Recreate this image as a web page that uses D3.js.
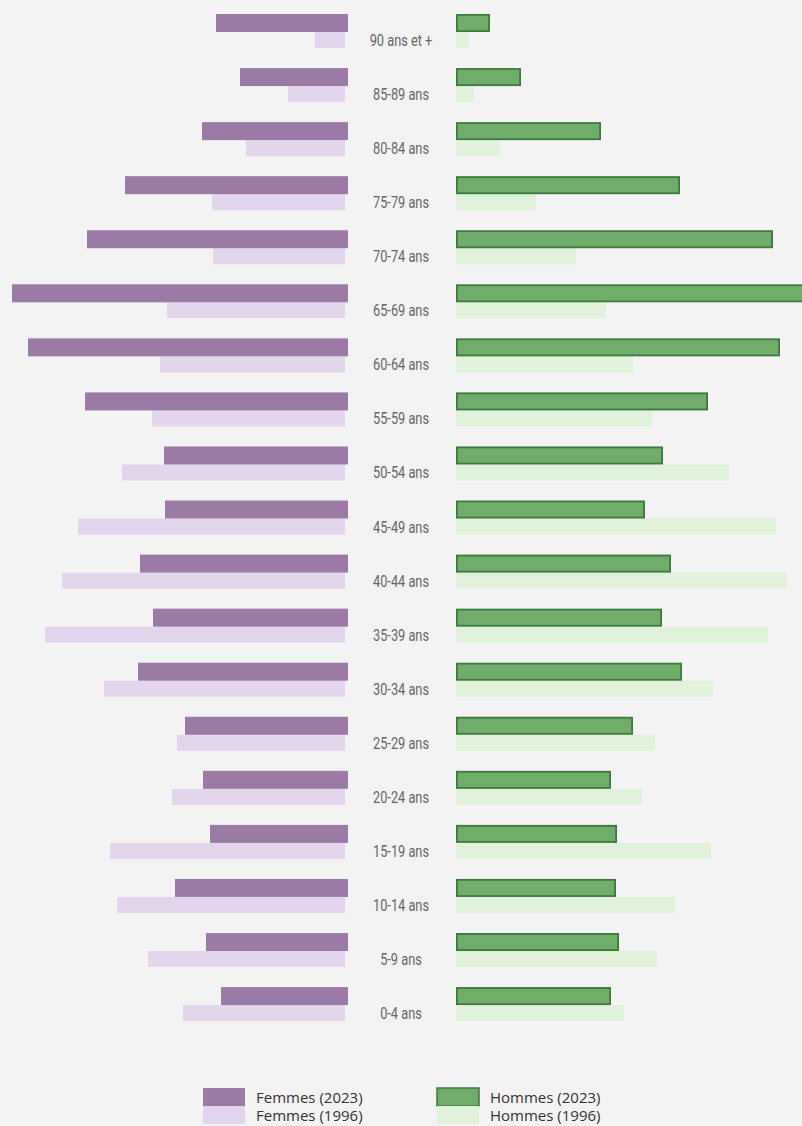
<!DOCTYPE html>
<html lang="fr">
<head>
<meta charset="utf-8">
<style>
  body { margin: 0; background: #f3f3f3; }
  #chart { width: 802px; height: 1126px; overflow: hidden; }
  .age { font-family: Roboto, "Liberation Sans", sans-serif; font-size: 16px; fill: #666; }
  .leg { font-family: "Open Sans", sans-serif; font-size: 15px; fill: #333; }
</style>
</head>
<body>
<div id="chart"><svg width="802" height="1126"></svg></div>
<script src="https://d3js.org/d3.v7.min.js"></script>
<script>
// age groups, top to bottom
var ages = ["90 ans et +", "85-89 ans", "80-84 ans", "75-79 ans", "70-74 ans", "65-69 ans",
  "60-64 ans", "55-59 ans", "50-54 ans", "45-49 ans", "40-44 ans", "35-39 ans",
  "30-34 ans", "25-29 ans", "20-24 ans", "15-19 ans", "10-14 ans", "5-9 ans", "0-4 ans"];

// values (same unit on both sides)
var femmes2023 = [132, 108, 146, 223, 261, 336, 320, 263, 184, 183, 208, 195, 210, 163, 145, 138, 173, 142, 127];
var femmes1996 = [30, 57, 99, 133, 132, 178, 185, 193, 223, 267, 283, 300, 241, 168, 173, 235, 228, 197, 162];
var hommes2023 = [34, 65, 145, 224, 317, 350, 324, 252, 207, 189, 215, 206, 226, 177, 155, 161, 160, 163, 155];
var hommes1996 = [13, 18, 44, 80, 120, 150, 177, 196, 273, 320, 331, 312, 257, 199, 186, 255, 219, 201, 168];

var legendLabels = ["Femmes (2023)", "Femmes (1996)", "Hommes (2023)", "Hommes (1996)"];

var svg = d3.select("svg");

var y = d3.scaleBand().domain(ages).range([14, 14 + 19 * 54.06]).padding(0);
var w = d3.scaleLinear().domain([0, 350]).range([0, 350]);

var leftEnd2023 = 348, leftEnd1996 = 345, rightStart = 456;

var rows = ages.map(function(a, i) {
  return {age: a, f23: femmes2023[i], f96: femmes1996[i], h23: hommes2023[i], h96: hommes1996[i]};
});

// 1996 bars (under the 2023 ones)
svg.selectAll(".f96").data(rows).enter().append("rect")
  .attr("x", function(d) { return leftEnd1996 - w(d.f96); })
  .attr("y", function(d) { return y(d.age) + 18; })
  .attr("width", function(d) { return w(d.f96); })
  .attr("height", 16)
  .attr("fill", "#e3d6ec");

svg.selectAll(".h96").data(rows).enter().append("rect")
  .attr("x", rightStart)
  .attr("y", function(d) { return y(d.age) + 18; })
  .attr("width", function(d) { return w(d.h96); })
  .attr("height", 16)
  .attr("fill", "#e0f2da");

// 2023 bars
svg.selectAll(".f23").data(rows).enter().append("rect")
  .attr("x", function(d) { return leftEnd2023 - w(d.f23); })
  .attr("y", function(d) { return y(d.age); })
  .attr("width", function(d) { return w(d.f23); })
  .attr("height", 18)
  .attr("fill", "#9c7aa6");

svg.selectAll(".h23").data(rows).enter().append("rect")
  .attr("x", rightStart + 0.9)
  .attr("y", function(d) { return y(d.age) + 0.9; })
  .attr("width", function(d) { return w(d.h23) - 1.8; })
  .attr("height", 16.2)
  .attr("fill", "#70ad6b")
  .attr("stroke", "#3c7a3e")
  .attr("stroke-width", 1.8);

// age labels
svg.selectAll(".age").data(rows).enter().append("text")
  .attr("class", "age")
  .attr("text-anchor", "middle")
  .attr("transform", function(d) { return "translate(401," + (y(d.age) + 32) + ") scale(0.8,1)"; })
  .text(function(d) { return d.age; });

// legend
var legend = [
  {x: 203, y: 1088, fill: "#9c7aa6", stroke: "none"},
  {x: 203, y: 1106, fill: "#e3d6ec", stroke: "none"},
  {x: 437, y: 1088, fill: "#70ad6b", stroke: "#3c7a3e"},
  {x: 437, y: 1106, fill: "#e0f2da", stroke: "none"}
];
var lg = svg.selectAll(".lg").data(legend).enter().append("g");
lg.append("rect")
  .attr("x", function(d) { return d.x; })
  .attr("y", function(d) { return d.y; })
  .attr("width", 42).attr("height", 18)
  .attr("fill", function(d) { return d.fill; })
  .attr("stroke", function(d) { return d.stroke; })
  .attr("stroke-width", 1.5);
lg.append("text")
  .attr("class", "leg")
  .attr("x", function(d) { return d.x + 53; })
  .attr("y", function(d) { return d.y + 15; })
  .text(function(d, i) { return legendLabels[i]; });
</script>
</body>
</html>
